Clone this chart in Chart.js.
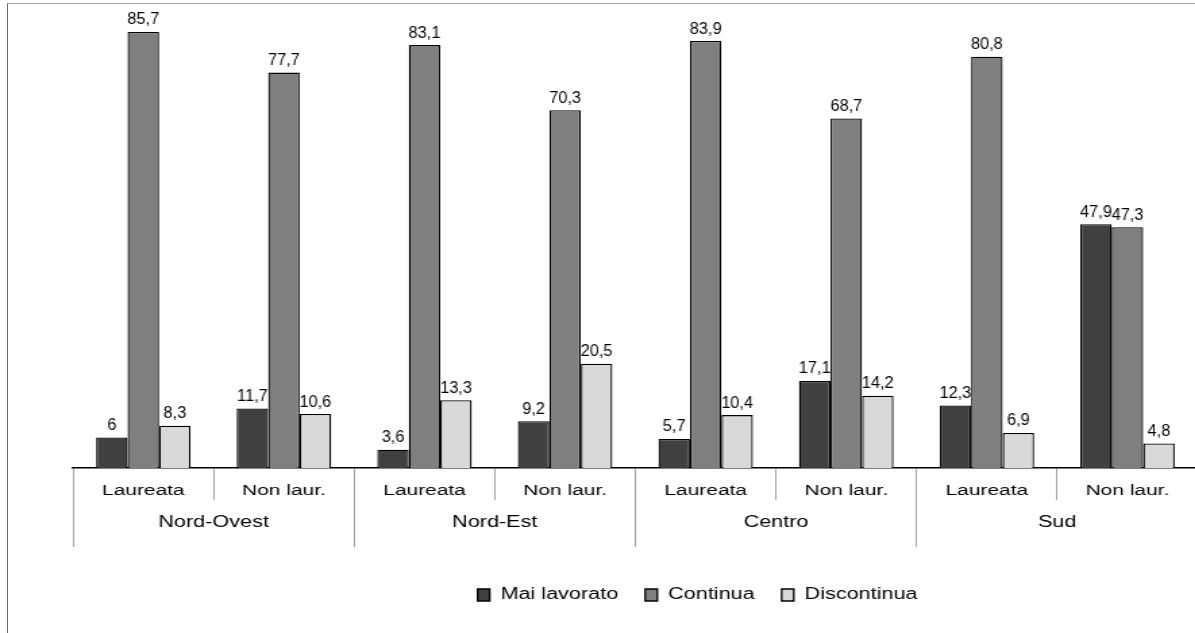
<!DOCTYPE html>
<html>
<head>
<meta charset="utf-8">
<script src="https://cdn.jsdelivr.net/npm/chart.js@4/dist/chart.umd.min.js"></script>
<style>
  html, body { margin: 0; padding: 0; background: #fff; overflow: hidden; }
  #wrap { position: relative; width: 1195px; height: 633px; overflow: hidden; background: #fff; }
  #frame { position: absolute; left: 7px; top: 3px; width: 1300px; height: 700px;
           border-left: 1px solid #6a6a6a; border-top: 1px solid #a8a8a8; pointer-events: none; }
  #c { position: absolute; left: 0; top: 0; }
</style>
</head>
<body>
<div id="wrap">
  <canvas id="c" width="979" height="633" style="width:1321.65px;height:633px;display:block"></canvas>
  <div id="frame"></div>
</div>
<script>
// ---- data ----
const categories = ['Laureata', 'Non laur.', 'Laureata', 'Non laur.', 'Laureata', 'Non laur.', 'Laureata', 'Non laur.'];
const regions = ['Nord-Ovest', 'Nord-Est', 'Centro', 'Sud'];
const seriesNames = ['Mai lavorato', 'Continua', 'Discontinua'];
const maiLavorato = [6, 11.7, 3.6, 9.2, 5.7, 17.1, 12.3, 47.9];
const continua = [85.7, 77.7, 83.1, 70.3, 83.9, 68.7, 80.8, 47.3];
const discontinua = [8.3, 10.6, 13.3, 20.5, 10.4, 14.2, 6.9, 4.8];
const yTicksMax = 90;

// ---- style ----
const STRETCH = 1.35;              // horizontal stretch of the canvas (CSS width / pixel width)
const LABEL_X_SCALE = 1.02 / STRETCH;
const colors = ['#404040', '#7f7f7f', '#d9d9d9'];

Chart.defaults.font.family = '"Liberation Sans", Arial, sans-serif';
Chart.defaults.color = '#000';

const valueLabels = {
  id: 'valueLabels',
  afterDatasetsDraw(chart) {
    const ctx = chart.ctx;
    ctx.save();
    ctx.font = '16px "Liberation Sans", Arial, sans-serif';
    ctx.fillStyle = '#000';
    ctx.textAlign = 'center';
    ctx.textBaseline = 'alphabetic';
    chart.data.datasets.forEach((ds, i) => {
      const meta = chart.getDatasetMeta(i);
      meta.data.forEach((bar, j) => {
        const txt = String(ds.data[j]).replace('.', ',');
        ctx.save();
        ctx.translate(bar.x, bar.y - 7.5);
        ctx.scale(LABEL_X_SCALE, 1);
        ctx.fillText(txt, 0, 0);
        ctx.restore();
      });
    });
    ctx.restore();
  }
};

const seriesData = [maiLavorato, continua, discontinua];

new Chart(document.getElementById('c'), {
  type: 'bar',
  data: {
    labels: categories,
    datasets: seriesNames.map((name, i) => ({
      label: name,
      data: seriesData[i],
      backgroundColor: colors[i],
      borderColor: '#000',
      borderWidth: 1.3,
      categoryPercentage: 0.672,
      barPercentage: 1.0
    }))
  },
  options: {
    responsive: false,
    devicePixelRatio: 1,
    animation: false,
    layout: { padding: { left: 54.07, right: 0, top: 10, bottom: 20 } },
    plugins: {
      legend: {
        position: 'bottom',
        labels: {
          boxWidth: 9, boxHeight: 12, padding: 20,
          font: { size: 16 }, color: '#000'
        }
      },
      tooltip: { enabled: false }
    },
    scales: {
      x: {
        weight: 0,
        offset: true,
        grid: { offset: true, drawOnChartArea: false, drawTicks: true, tickLength: 32, color: '#a0a0a0', lineWidth: 1 },
        border: { display: true, color: '#000', width: 1.5 },
        ticks: { padding: -19, font: { size: 15.5 }, color: '#000', maxRotation: 0, autoSkip: false },
        afterFit: s => { s.height = 32; }
      },
      x2: {
        type: 'category',
        labels: regions,
        position: 'bottom',
        weight: 1,
        offset: true,
        grid: { offset: true, drawOnChartArea: false, drawTicks: true, tickLength: 47, color: '#a0a0a0', lineWidth: 1 },
        border: { display: false },
        ticks: { padding: -34, font: { size: 16 }, color: '#000', maxRotation: 0, autoSkip: false },
        afterFit: s => { s.height = 67; }
      },
      y: {
        position: 'right',
        min: 0,
        max: yTicksMax,
        grid: { display: false },
        border: { display: false },
        ticks: { display: false },
        afterFit: s => { s.width = 92; }
      }
    }
  },
  plugins: [valueLabels]
});
</script>
</body>
</html>
